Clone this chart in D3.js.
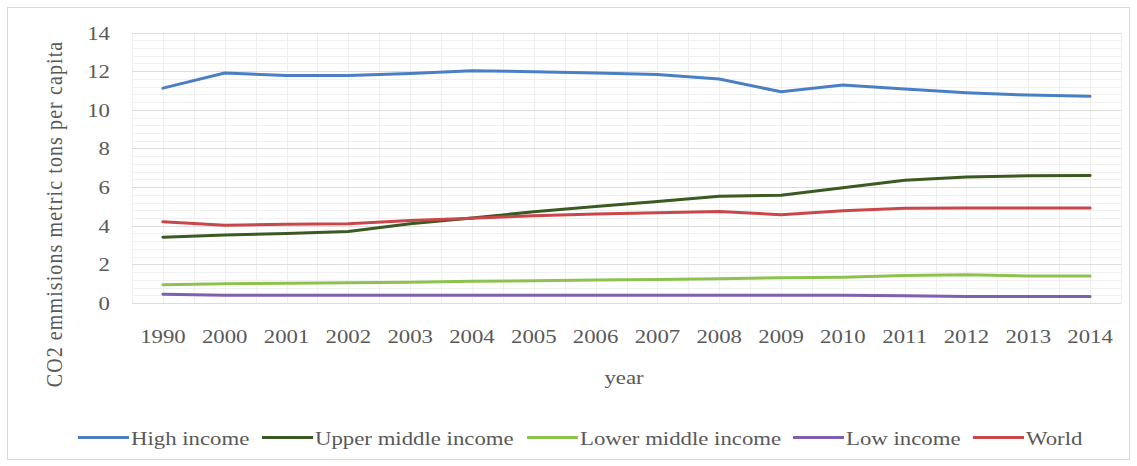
<!DOCTYPE html>
<html><head><meta charset="utf-8">
<script src="https://cdn.jsdelivr.net/npm/d3@7"></script>
<style>
html,body{margin:0;padding:0;background:#fff;}
svg{display:block;}
text{font-family:"Liberation Serif","Times New Roman",serif;fill:#595959;}
</style></head>
<body>
<svg id="chart" width="1137" height="466"></svg>
<script>
const years = ["1990","2000","2001","2002","2003","2004","2005","2006","2007","2008","2009","2010","2011","2012","2013","2014"];
const highIncome = [11.12, 11.9, 11.78, 11.78, 11.88, 12.02, 11.97, 11.9, 11.83, 11.59, 10.93, 11.28, 11.07, 10.88, 10.76, 10.7];
const upperMiddle = [3.4, 3.52, 3.6, 3.7, 4.1, 4.4, 4.72, 5.0, 5.25, 5.52, 5.58, 5.97, 6.35, 6.52, 6.58, 6.6];
const lowerMiddle = [0.95, 1.0, 1.02, 1.05, 1.08, 1.12, 1.15, 1.19, 1.22, 1.26, 1.31, 1.33, 1.42, 1.46, 1.4, 1.4];
const lowIncome = [0.45, 0.4, 0.4, 0.4, 0.4, 0.4, 0.4, 0.4, 0.4, 0.4, 0.4, 0.4, 0.38, 0.33, 0.33, 0.33];
const world = [4.2, 4.02, 4.08, 4.1, 4.27, 4.38, 4.52, 4.6, 4.67, 4.74, 4.57, 4.77, 4.9, 4.92, 4.92, 4.92];
const seriesNames = ["High income","Upper middle income","Lower middle income","Low income","World"];
const yTicks = [0,2,4,6,8,10,12,14];

const colors = ["#4a7fc4","#3b5a22","#8dc24e","#7f5fae","#c9474a"];
const seriesData = [highIncome, upperMiddle, lowerMiddle, lowIncome, world];

const svg = d3.select("#chart");
const L = 132, R = 1121, T = 32.5, B = 303;
const SX = 1.2;

// outer border
svg.append("rect").attr("x",7.5).attr("y",7.5).attr("width",1122).attr("height",452)
  .attr("fill","#fff").attr("stroke","#d9d9d9").attr("stroke-width",1);

const x = d3.scaleBand().domain(years).range([L,R]).paddingInner(0).paddingOuter(0);
const y = d3.scaleLinear().domain([0,14]).range([B,T]);
const cx = d => x(d) + x.bandwidth()/2;

const grid = svg.append("g");
// minor horizontal
d3.range(0, 14.001, 0.4).forEach(v => {
  grid.append("line").attr("x1",L).attr("x2",R).attr("y1",Math.round(y(v))+0.5).attr("y2",Math.round(y(v))+0.5)
    .attr("stroke","#f0f0f0").attr("stroke-width",1);
});
// vertical
years.forEach(d => {
  [x(d), cx(d)].forEach(px => {
    grid.append("line").attr("x1",Math.round(px)+0.5).attr("x2",Math.round(px)+0.5).attr("y1",T).attr("y2",B)
      .attr("stroke","#eeeeee").attr("stroke-width",1);
  });
});
grid.append("line").attr("x1",R+0.5).attr("x2",R+0.5).attr("y1",T).attr("y2",B).attr("stroke","#eeeeee");
// major horizontal
yTicks.forEach(v => {
  grid.append("line").attr("x1",L).attr("x2",R).attr("y1",Math.round(y(v))+0.5).attr("y2",Math.round(y(v))+0.5)
    .attr("stroke","#dcdcdc").attr("stroke-width",1);
});

// y axis
const yAxis = svg.append("g").attr("transform",`translate(${L},0)`)
  .call(d3.axisLeft(y).tickValues(yTicks).tickSize(0).tickPadding(0).tickFormat(d3.format("d")));
yAxis.select(".domain").remove();
yAxis.selectAll("text").attr("x",0).attr("dy",null).attr("dominant-baseline",null)
  .attr("transform",`translate(-22,6.5) scale(${SX},1)`)
  .style("font-size","19px").style("fill","#595959").attr("font-family",null).attr("text-anchor","end");

// x axis
const xAxis = svg.append("g").attr("transform",`translate(0,${B})`)
  .call(d3.axisBottom(x).tickSize(0).tickPadding(0));
xAxis.select(".domain").remove();
xAxis.selectAll("text").attr("y",0).attr("dy",null)
  .attr("transform",`translate(0,40) scale(${SX},1)`)
  .style("font-size","19px").style("fill","#595959").attr("font-family",null);

// axis titles
svg.append("text").attr("transform",`translate(624,384) scale(${SX},1)`).attr("text-anchor","middle")
  .style("font-size","19px").text("year");
svg.append("text").attr("transform",`translate(62,214) scale(${SX},1) rotate(-90)`).attr("text-anchor","middle")
  .style("font-size","20px").style("letter-spacing","1.1px").text("CO2 emmisions metric tons per capita");

// lines
const line = d3.line().x((d,i) => cx(years[i])).y(d => y(d));
seriesData.forEach((s,k) => {
  svg.append("path").datum(s).attr("d",line).attr("fill","none")
    .attr("stroke",colors[k]).attr("stroke-width",3).attr("stroke-linejoin","round").attr("stroke-linecap","round");
});

// legend
const legX = [78, 262, 527, 793, 973];
const legY = 437.5;
seriesNames.forEach((n,k) => {
  const g = svg.append("g").attr("transform",`translate(${legX[k]},${legY})`);
  g.append("line").attr("x1",0).attr("x2",51).attr("y1",0).attr("y2",0)
    .attr("stroke",colors[k]).attr("stroke-width",3);
  g.append("text").attr("transform",`translate(53,7) scale(${SX},1)`).style("font-size","19px").text(n);
});
</script>
</body></html>
